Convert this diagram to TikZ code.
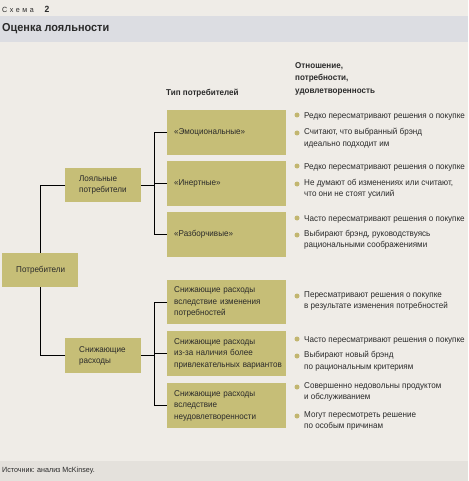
\documentclass[tikz,border=0pt]{standalone}
\usepackage{fontspec}
\setmainfont[FakeStretch=0.95]{Liberation Sans}
\definecolor{bg}{HTML}{EFECE7}
\definecolor{band}{HTML}{DCDDE2}
\definecolor{foot}{HTML}{E4E1DC}
\definecolor{khaki}{HTML}{C6BE77}
\definecolor{dotc}{HTML}{C2B670}
\definecolor{ink}{HTML}{2A2A2A}
\newcommand\fsz{\fontsize{8.5}{11.5}\selectfont}
\begin{document}
\begin{tikzpicture}[x=1pt,y=-1pt,
  conn/.style={draw=black, line width=0.9pt},
  bx/.style={fill=khaki, inner ysep=0pt, align=left, font=\fsz, text=ink, anchor=north west},
  bigbox/.style={bx, inner xsep=7pt, text width=105pt, minimum height=45pt},
  smallbox/.style={bx, inner xsep=14pt, text width=48pt, minimum height=34pt},
  bul/.style={circle, fill=dotc, inner sep=0pt, minimum size=5pt},
  item/.style={anchor=north west, inner sep=0pt, align=left, font=\fsz, text=ink, execute at begin node=\rule{0pt}{8pt}},
  hdr/.style={anchor=north west, inner sep=0pt, align=left, font=\fontsize{8.5}{12.5}\selectfont\bfseries, text=ink, execute at begin node=\rule{0pt}{8pt}}
]
\useasboundingbox (0,0) rectangle (468,481);
\fill[bg] (0,0) rectangle (468,481);
\fill[band] (0,16) rectangle (468,42);
\fill[foot] (0,461) rectangle (468,481);

\node[anchor=west, inner sep=0pt, font=\fontsize{7.5}{9}\selectfont, text=ink] (schema) at (2,9) {С\hspace{2.5pt}х\hspace{2.5pt}е\hspace{2.5pt}м\hspace{2.5pt}а\hspace{11pt}{\fontsize{9}{9}\selectfont\bfseries 2}};
\node[anchor=west, inner sep=0pt, font=\fontsize{11.5}{13}\selectfont\bfseries, text=ink] (title) at (2,29) {Оценка лояльности};
\node[anchor=west, inner sep=0pt, font=\fontsize{7.5}{9}\selectfont, text=ink] (src) at (2,471) {Источник: анализ McKinsey.};

\node[hdr] (h1) at (166,87) {Тип потребителей};
\node[hdr] (h2) at (295,62) {Отношение,\\потребности,\\удовлетворенность};

\node[smallbox, minimum height=34pt] (cons) at (2,253) {Потребители};
\node[smallbox, minimum height=34pt] (loyal) at (65,168) {Лояльные\\потребители};
\node[smallbox, minimum height=35pt] (red) at (65,338) {Снижающие\\расходы};

\node[bigbox] (emo) at (167,110) {«Эмоциональные»};
\node[bigbox] (iner) at (167,161) {«Инертные»};
\node[bigbox] (razb) at (167,212) {«Разборчивые»};
\node[bigbox, minimum height=44pt] (s1) at (167,280) {Снижающие расходы\\вследствие изменения\\потребностей};
\node[bigbox] (s2) at (167,331) {Снижающие расходы\\из-за наличия более\\привлекательных~вариантов};
\node[bigbox] (s3) at (167,383) {Снижающие расходы\\вследствие\\неудовлетворенности};

\coordinate (busx) at (154,0);
\draw[conn] (loyal.west) -| (cons.north);
\draw[conn] (red.west) -| (cons.south);
\draw[conn] (emo.west) -- (emo.west -| busx) -- (razb.west -| busx) -- (razb.west);
\draw[conn] (iner.west) -- (iner.west -| busx);
\draw[conn] (loyal.east) -- (loyal.east -| busx);
\draw[conn] (s1.west) -- (s1.west -| busx) -- (s3.west -| busx) -- (s3.west);
\draw[conn] (s2.west) -- (s2.west -| busx);
\draw[conn] (red.east) -- (red.east -| busx);

\node[bul] (b1) at (297,115) {};
\node[item] (t1) at (304,110) {Редко пересматривают решения о покупке};
\node[bul] (b2) at (297,133) {};
\node[item] (t2) at (304,128) {Считают, что выбранный брэнд\\идеально подходит им};
\node[bul] (b3) at (297,166) {};
\node[item] (t3) at (304,161) {Редко пересматривают решения о покупке};
\node[bul] (b4) at (297,184) {};
\node[item] (t4) at (304,179) {Не думают об изменениях или считают,\\что они не стоят усилий};
\node[bul] (b5) at (297,218) {};
\node[item] (t5) at (304,213) {Часто пересматривают решения о покупке};
\node[bul] (b6) at (297,235) {};
\node[item] (t6) at (304,230) {Выбирают брэнд, руководствуясь\\рациональными соображениями};
\node[bul] (b7) at (297,296) {};
\node[item] (t7) at (304,291) {Пересматривают решения о покупке\\в результате изменения потребностей};
\node[bul] (b8) at (297,339) {};
\node[item] (t8) at (304,334) {Часто пересматривают решения о покупке};
\node[bul] (b9) at (297,356) {};
\node[item] (t9) at (304,351) {Выбирают новый брэнд\\по рациональным критериям};
\node[bul] (b10) at (297,387) {};
\node[item] (t10) at (304,382) {Совершенно недовольны продуктом\\и обслуживанием};
\node[bul] (b11) at (297,416) {};
\node[item] (t11) at (304,411) {Могут пересмотреть решение\\по особым причинам};
\end{tikzpicture}
\end{document}
